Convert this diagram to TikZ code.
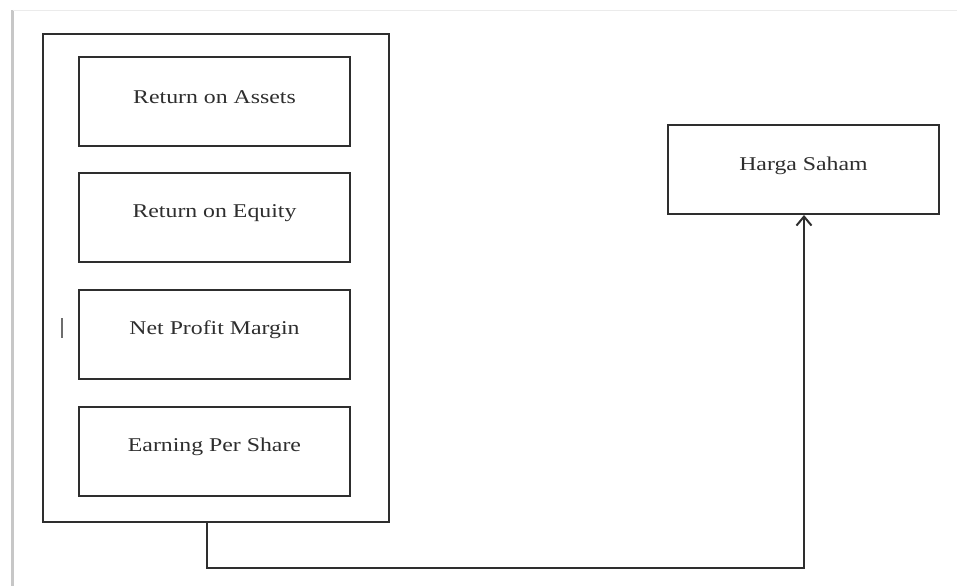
\documentclass[tikz,border=0pt]{standalone}
\usepackage{fontspec}
\setmainfont{Liberation Serif}[FakeStretch=1.22]
\usetikzlibrary{arrows.meta}
\definecolor{ink}{HTML}{2E2E2E}
\tikzset{
  box/.style={draw=ink, line width=2pt, minimum width=271pt, minimum height=89pt, inner sep=0pt},
  lbl/.style={font=\fontsize{19.5}{22}\selectfont, text=ink},
  conn/.style={draw=ink, line width=2pt},
}
\begin{document}
\begin{tikzpicture}[x=1pt,y=-1pt]
\useasboundingbox (0,0) rectangle (957,586);
% page frame
\draw[black!22, line width=3pt] (12,10) -- (12,586);
\draw[black!8, line width=1.5pt] (13,10.5) -- (957,10.5);
% outer group box
\node[draw=ink, line width=2pt, minimum width=346pt, minimum height=488pt, inner sep=0pt] (grp) at (216,278) {};
% inner boxes
\node[box] (roa) at (214.5,101.5) {};
\node[box] (roe) at (214.5,217.5) {};
\node[box] (npm) at (214.5,334) {};
\node[box] (eps) at (214.5,451) {};
\node[lbl] (troa) at (214.5,97) {Return on Assets};
\node[lbl] (troe) at (214.5,213) {Return on Equity};
\node[lbl] (tnpm) at (214.5,329.5) {Net Profit Margin};
\node[lbl] (teps) at (214.5,446.5) {Earning Per Share};
% stray mark
\draw[ink!70, line width=1.5pt] (62,318) -- (62,338);
% target
\node[box] (hs) at (803.5,169.5) {};
\node[lbl] (ths) at (803.5,166) {Harga Saham};
% connector
\coordinate (c1) at (207,568);
\coordinate (c2) at (804,568);
\draw[conn, -{Straight Barb[length=9pt,width=15pt,line width=2pt]}]
  (grp.south -| c1) -- (c1) -- (c2) -- (hs.south -| c2);
\end{tikzpicture}
\end{document}
